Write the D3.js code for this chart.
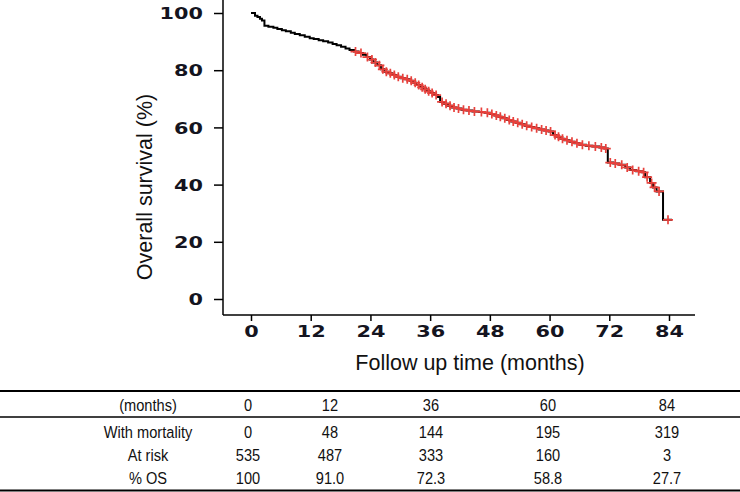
<!DOCTYPE html>
<html><head><meta charset="utf-8">
<script src="https://cdn.jsdelivr.net/npm/d3@7"></script>
<style>body{margin:0;background:#fff}svg{display:block}</style>
</head><body><svg id="c" width="740" height="492"></svg>
<script>
// ---- data ----
const xTicks = [0, 12, 24, 36, 48, 60, 72, 84];
const yTicks = [0, 20, 40, 60, 80, 100];
// Kaplan-Meier steps: [time (months), survival (%) after event]
const kmSteps = [
 [0,100],[0.8,99.0],[1.3,98.6],[1.8,98.0],[2.2,97.4],[2.7,95.5],[3.5,95.2],[4.5,94.8],[5.3,94.4],
 [6.2,94.0],[7.0,93.6],[8.0,93.1],[8.8,92.7],[9.8,92.2],[10.8,91.7],[11.8,91.2],[12.6,90.9],
 [13.6,90.5],[14.5,90.1],[15.5,89.7],[16.4,89.2],[17.2,88.7],[18.1,88.2],[19.0,87.6],[19.8,87.1],
 [20.7,86.5],[21.6,86.0],[22.5,85.4],[23.2,84.6],[23.9,83.7],[24.6,82.7],[25.4,81.7],[26.1,80.3],
 [26.8,79.5],[27.6,78.9],[28.4,78.3],[29.2,77.7],[30.1,77.2],[31.0,76.8],[31.9,76.3],[32.6,75.6],
 [33.2,74.8],[34.0,74.0],[34.6,73.3],[35.3,72.6],[36.0,72.0],[36.8,71.3],[37.6,70.6],[38.0,68.9],
 [38.8,68.3],[39.6,67.6],[40.4,67.0],[41.3,66.6],[42.3,66.2],[43.3,65.9],[44.5,65.6],[45.8,65.4],
 [47.0,65.1],[48.0,64.7],[48.9,64.2],[49.7,63.7],[50.5,63.2],[51.4,62.6],[52.3,62.1],[53.2,61.6],
 [54.1,61.1],[55.0,60.6],[56.0,60.1],[56.9,59.7],[57.9,59.3],[58.9,58.9],[59.8,58.6],[60.7,57.3],
 [61.4,56.7],[62.2,56.0],[63.0,55.5],[64.0,55.0],[65.0,54.5],[66.0,53.9],[67.3,53.6],[68.6,53.3],
 [70.0,53.0],[71.0,52.6],[71.7,47.7],[72.8,47.4],[74.0,46.9],[75.2,46.0],[76.2,45.1],[77.4,44.7],
 [78.6,44.3],[79.2,42.6],[80.2,40.6],[80.8,39.0],[81.5,37.6],[82.8,27.7]
];
const kmEnd = 84.6;
const censorTimes = [21.0,22.1,23.4,24.3,25.0,25.8,26.5,27.2,28.0,28.8,29.6,30.5,31.4,32.2,33.0,33.7,
 34.4,35.0,35.7,36.4,37.2,38.4,39.2,40.0,40.8,41.7,42.7,43.8,44.9,46.3,47.5,48.4,49.3,50.1,51.0,51.9,
 52.7,53.6,54.5,55.4,56.4,57.4,58.4,59.3,60.2,61.1,61.8,62.6,63.5,64.5,65.5,66.6,67.9,69.2,70.4,71.3,
 72.2,73.2,74.5,75.6,76.7,77.9,78.9,79.6,80.5,81.1,82.0,83.8];
// table
const tableHeader = ["(months)", "0", "12", "36", "60", "84"];
const rowLabels = ["With mortality", "At risk", "% OS"];
const withMortality = ["0", "48", "144", "195", "319"];
const atRisk = ["535", "487", "333", "160", "3"];
const pctOS = ["100", "91.0", "72.3", "58.8", "27.7"];

// ---- layout ----
const svg = d3.select("#c");
const x = d3.scaleLinear().domain([0, 84]).range([251, 669]);
const y = d3.scaleLinear().domain([0, 100]).range([299, 13]);
const axisX = 223, axisY = 315;
const tickFont = "'DejaVu Sans', Verdana, sans-serif";
const sx = 1.3;

// axis lines
svg.append("line").attr("x1", axisX).attr("x2", axisX).attr("y1", 0).attr("y2", axisY)
  .attr("stroke", "#000").attr("stroke-width", 1.5);
svg.append("line").attr("x1", axisX).attr("x2", 695).attr("y1", axisY).attr("y2", axisY)
  .attr("stroke", "#000").attr("stroke-width", 1.5);

// y axis
const gy = svg.append("g").attr("transform", `translate(${axisX},0)`)
  .call(d3.axisLeft(y).tickValues(yTicks).tickSize(9).tickSizeOuter(0));
gy.select(".domain").remove();
gy.selectAll(".tick line").attr("stroke", "#000").attr("stroke-width", 1.5);
gy.selectAll(".tick text").attr("x", -20 / sx).attr("transform", `scale(${sx},1)`)
  .attr("font-family", tickFont).attr("font-weight", "bold").attr("font-size", 16)
  .attr("fill", "#141420").attr("dy", "0.36em");

// x axis
const gx = svg.append("g").attr("transform", `translate(0,${axisY})`)
  .call(d3.axisBottom(x).tickValues(xTicks).tickSize(6).tickSizeOuter(0));
gx.select(".domain").remove();
gx.selectAll(".tick line").attr("stroke", "#000").attr("stroke-width", 1.5);
gx.selectAll(".tick text").attr("y", 11).attr("transform", `scale(${sx},1)`)
  .attr("font-family", tickFont).attr("font-weight", "bold").attr("font-size", 16)
  .attr("fill", "#141420").attr("dy", "0.71em");

// axis titles
svg.append("text").attr("transform", "translate(152,187) rotate(-90)")
  .attr("text-anchor", "middle").attr("font-family", "'Liberation Sans', Arial, sans-serif")
  .attr("font-size", 21.5).attr("fill", "#111").text("Overall survival (%)");
svg.append("text").attr("x", 470).attr("y", 370)
  .attr("text-anchor", "middle").attr("font-family", "'Liberation Sans', Arial, sans-serif")
  .attr("font-size", 21.5).attr("fill", "#111").text("Follow up time (months)");

// KM curve
const pathData = kmSteps.concat([[kmEnd, kmSteps[kmSteps.length - 1][1]]]);
const line = d3.line().x(d => x(d[0])).y(d => y(d[1])).curve(d3.curveStepAfter);
svg.append("path").datum(pathData).attr("d", line)
  .attr("fill", "none").attr("stroke", "#000").attr("stroke-width", 2);

// censor marks
const bis = d3.bisector(d => d[0]).right;
function survAt(t) { return kmSteps[Math.max(0, bis(kmSteps, t) - 1)][1]; }
svg.append("g").selectAll("path").data(censorTimes).join("path")
  .attr("d", t => {
    const cx = x(t), cy = y(survAt(t));
    return `M${cx - 5},${cy}H${cx + 5}M${cx},${cy - 4.5}V${cy + 4.5}`;
  })
  .attr("stroke", "#e8413c").attr("stroke-width", 1.7).attr("fill", "none");

// table
const colX = [148, 248, 330, 431, 548, 667];
const tf = "'Liberation Sans', Arial, sans-serif";
const tsx = 0.86;
svg.append("line").attr("x1", 0).attr("x2", 740).attr("y1", 391).attr("y2", 391)
  .attr("stroke", "#000").attr("stroke-width", 2);
svg.append("line").attr("x1", 0).attr("x2", 740).attr("y1", 417).attr("y2", 417)
  .attr("stroke", "#000").attr("stroke-width", 1.5);
svg.append("line").attr("x1", 0).attr("x2", 740).attr("y1", 490.5).attr("y2", 490.5)
  .attr("stroke", "#000").attr("stroke-width", 2);
const rows = [tableHeader, [rowLabels[0]].concat(withMortality), [rowLabels[1]].concat(atRisk), [rowLabels[2]].concat(pctOS)];
const rowY = [411, 437.5, 461, 484];
rows.forEach((r, i) => {
  svg.append("g").selectAll("text").data(r).join("text")
    .attr("transform", (d, j) => `translate(${colX[j]},${rowY[i]}) scale(${tsx},1)`)
    .attr("text-anchor", "middle").attr("font-family", tf).attr("font-size", 17)
    .attr("fill", "#111").text(d => d);
});
</script></body></html>
